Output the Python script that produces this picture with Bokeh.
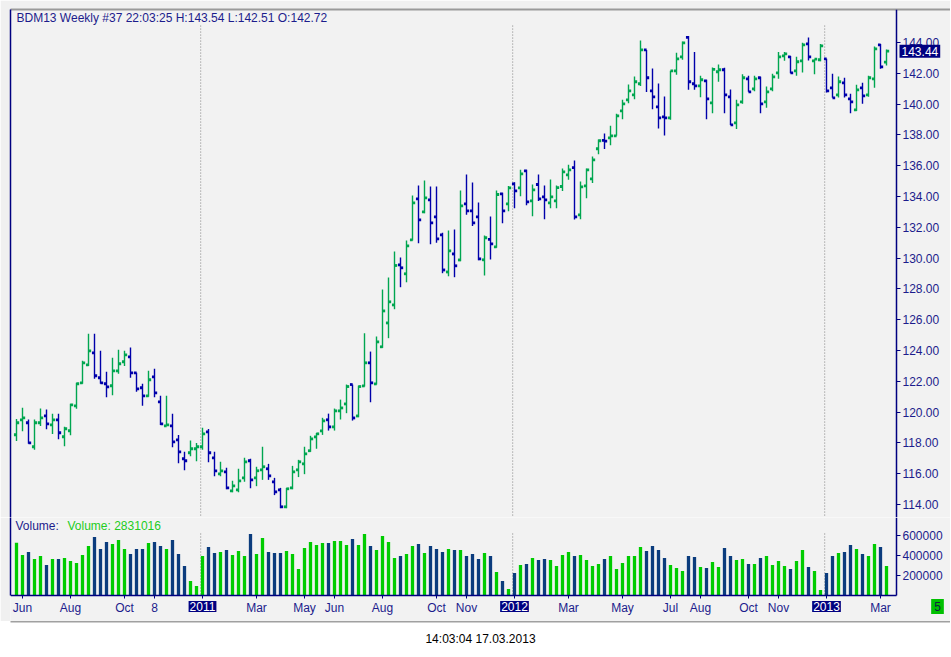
from bokeh.plotting import figure
from bokeh.models import (Range1d, LinearAxis, FixedTicker, Label, ColumnDataSource,
                          NumeralTickFormatter)
from bokeh.layouts import column
from bokeh.embed import file_html
from bokeh.resources import INLINE

# ---------------- data (weekly OHLC, BDM13) ----------------
opens = [118.53, 119.50, 119.31, 117.75, 119.31, 119.76, 119.17, 119.50, 118.40, 118.79,
         120.41, 121.90, 123.07, 123.85, 122.23, 121.84, 121.71, 122.68, 123.27, 123.59,
         122.55, 121.58, 121.06, 122.29, 120.67, 119.11, 119.11, 118.20, 116.97, 117.36,
         117.62, 117.75, 118.72, 117.03, 115.99, 116.12, 114.89, 114.95, 115.73, 116.84,
         115.73, 116.25, 116.32, 115.47, 114.95, 113.85, 115.08, 116.25, 116.64, 117.49,
         118.39, 118.78, 119.50, 119.04, 120.08, 120.53, 121.79, 119.75, 121.70, 123.20,
         121.83, 124.24, 125.79, 126.96, 129.56, 128.98, 131.18, 133.85, 133.00, 133.78,
         132.68, 131.51, 129.10, 130.27, 129.88, 133.52, 133.07, 132.68, 129.89, 131.21,
         130.73, 134.17, 133.52, 134.82, 134.56, 135.67, 133.72, 134.78, 133.98, 133.59,
         133.72, 134.65, 135.41, 135.88, 132.81, 134.69, 135.15, 137.10, 137.64, 137.81,
         137.94, 139.56, 140.28, 140.60, 141.32, 143.52, 140.86, 139.82, 139.17, 139.11,
         142.16, 143.07, 144.33, 141.32, 141.19, 141.51, 140.08, 142.10, 142.23, 140.47,
         138.78, 140.15, 141.64, 140.99, 141.71, 140.15, 140.99, 142.03, 143.13, 143.07,
         142.16, 142.81, 143.91, 142.81, 142.88, 142.94, 141.06, 140.60, 141.38, 140.34,
         139.63, 141.06, 140.60, 141.64, 143.85, 142.72]
highs = [119.56, 120.28, 119.52, 119.52, 120.24, 120.17, 119.89, 119.89, 119.05, 120.54,
         121.90, 123.33, 125.08, 125.08, 123.98, 122.62, 123.53, 124.05, 123.98, 124.20,
         122.55, 121.84, 122.68, 122.81, 121.06, 121.06, 119.89, 118.52, 117.42, 118.16,
         118.00, 118.98, 118.91, 117.42, 116.77, 116.38, 115.54, 116.32, 117.03, 116.97,
         116.45, 117.75, 116.64, 115.73, 115.08, 115.08, 116.51, 116.90, 117.75, 118.46,
         118.65, 119.63, 119.90, 120.23, 120.81, 121.79, 121.79, 121.72, 125.12, 123.93,
         124.91, 127.96, 128.74, 130.43, 130.04, 131.14, 134.06, 134.71, 135.04, 134.65,
         134.65, 131.64, 131.79, 131.85, 134.39, 135.43, 134.91, 133.61, 131.47, 132.70,
         134.39, 134.24, 134.69, 134.93, 135.73, 135.73, 134.78, 135.43, 134.71, 135.10,
         134.71, 135.82, 136.06, 136.34, 134.97, 135.82, 136.60, 137.70, 138.09, 138.59,
         139.37, 140.28, 141.27, 141.79, 144.13, 143.52, 142.31, 141.34, 140.50, 142.16,
         143.33, 144.07, 144.43, 143.39, 141.84, 141.58, 142.38, 142.57, 142.36, 140.95,
         140.28, 141.94, 141.84, 141.84, 141.77, 141.14, 141.97, 143.39, 143.39, 143.13,
         143.07, 143.98, 144.33, 142.92, 143.91, 142.94, 141.97, 141.79, 141.71, 140.67,
         141.25, 141.38, 141.84, 143.74, 143.91, 143.54]
lows = [118.12, 118.76, 117.94, 117.55, 119.09, 118.89, 118.57, 118.24, 117.79, 118.50,
        120.21, 121.84, 123.00, 122.16, 121.84, 120.97, 121.10, 122.49, 123.00, 122.23,
        121.32, 120.41, 120.99, 120.97, 119.17, 119.11, 117.72, 116.68, 116.23, 117.14,
        116.81, 117.55, 116.75, 115.84, 115.84, 114.99, 114.80, 114.80, 115.47, 115.06,
        115.19, 115.60, 115.60, 114.61, 113.76, 113.76, 114.99, 115.78, 115.97, 117.42,
        117.62, 118.52, 118.80, 118.80, 119.52, 119.93, 119.45, 119.67, 121.66, 120.64,
        121.79, 124.17, 124.80, 126.68, 128.11, 128.43, 131.14, 130.97, 132.91, 130.90,
        130.99, 129.02, 128.82, 128.76, 129.80, 132.81, 132.09, 129.86, 128.87, 129.91,
        130.67, 132.27, 133.05, 133.24, 134.02, 133.44, 132.72, 133.70, 132.53, 133.24,
        133.24, 134.35, 135.08, 132.51, 132.53, 133.89, 134.87, 136.75, 137.08, 137.33,
        137.94, 139.02, 140.06, 140.32, 141.17, 140.78, 139.67, 138.42, 137.96, 138.98,
        141.90, 142.88, 140.93, 140.93, 140.45, 139.02, 139.41, 141.45, 139.41, 138.65,
        138.39, 140.02, 140.80, 140.84, 139.41, 139.76, 140.84, 141.64, 142.81, 142.01,
        141.84, 142.05, 142.83, 141.94, 142.79, 140.75, 140.41, 140.43, 140.43, 139.41,
        139.56, 140.02, 140.47, 141.06, 142.29, 142.51]
closes = [119.31, 119.63, 118.00, 119.31, 119.63, 119.24, 119.50, 118.66, 118.92, 120.47,
          121.84, 123.20, 123.98, 122.36, 121.90, 121.64, 122.68, 123.14, 123.72, 122.55,
          121.51, 121.06, 122.10, 121.25, 119.24, 119.17, 118.07, 117.42, 116.84, 117.62,
          117.75, 118.59, 117.36, 116.19, 116.19, 115.08, 115.21, 115.54, 116.77, 115.60,
          116.19, 116.45, 115.86, 114.82, 113.85, 115.02, 116.12, 116.77, 117.29, 118.26,
          118.59, 119.43, 119.04, 120.08, 120.27, 121.66, 119.62, 121.66, 123.20, 121.90,
          124.56, 126.57, 127.16, 129.52, 129.37, 130.79, 133.59, 132.48, 133.91, 132.29,
          131.25, 129.23, 130.47, 129.50, 133.39, 133.07, 132.29, 129.95, 131.32, 130.93,
          134.13, 133.07, 134.56, 134.37, 135.47, 133.65, 134.43, 133.85, 133.78, 133.98,
          134.58, 135.60, 135.73, 132.68, 134.63, 135.73, 136.38, 137.62, 137.60, 137.94,
          139.24, 140.02, 140.86, 141.45, 143.52, 141.71, 140.47, 139.11, 139.11, 142.16,
          142.94, 143.98, 141.45, 141.19, 141.58, 140.34, 142.25, 142.23, 140.60, 138.65,
          139.95, 141.71, 140.80, 141.64, 140.02, 140.80, 141.77, 143.07, 143.26, 142.03,
          142.75, 143.85, 143.07, 142.92, 143.78, 140.86, 140.41, 141.45, 140.60, 140.15,
          140.93, 140.54, 141.71, 143.59, 142.42, 143.44]
volumes = [523000, 400000, 430000, 360000, 390000, 300000, 360000, 360000, 370000, 340000,
           320000, 400000, 490000, 580000, 460000, 530000, 510000, 550000, 460000, 410000,
           460000, 460000, 520000, 530000, 490000, 460000, 550000, 410000, 290000, 140000,
           90000, 390000, 480000, 420000, 430000, 450000, 400000, 440000, 390000, 610000,
           410000, 570000, 430000, 420000, 420000, 440000, 410000, 260000, 470000, 530000,
           500000, 520000, 520000, 540000, 540000, 500000, 560000, 500000, 610000, 490000,
           450000, 590000, 530000, 370000, 390000, 410000, 490000, 510000, 420000, 490000,
           460000, 430000, 460000, 450000, 450000, 390000, 410000, 360000, 420000, 390000,
           230000, 140000, 60000, 220000, 300000, 310000, 370000, 350000, 360000, 350000,
           290000, 400000, 430000, 390000, 400000, 350000, 290000, 310000, 360000, 390000,
           260000, 320000, 390000, 390000, 480000, 440000, 490000, 450000, 370000, 300000,
           270000, 240000, 390000, 380000, 280000, 270000, 330000, 280000, 470000, 390000,
           350000, 360000, 310000, 310000, 370000, 390000, 300000, 340000, 290000, 260000,
           340000, 450000, 280000, 240000, 50000, 220000, 390000, 420000, 430000, 500000,
           460000, 410000, 390000, 510000, 480000, 290000]

tick_idx = [1, 9, 18, 23, 31, 40, 48, 53, 61, 70, 75, 83, 92, 101, 109, 114, 122, 127, 135, 144]
tick_labels = ["Jun", "Aug", "Oct", "8", "2011", "Mar", "May", "Jun", "Aug", "Oct", "Nov",
               "2012", "Mar", "May", "Jul", "Aug", "Oct", "Nov", "2013", "Mar"]
year_labels = ["2011", "2012", "2013"]
price_ticks = [114, 116, 118, 120, 122, 124, 126, 128, 130, 132, 134, 136, 138, 140, 142, 144]
volume_ticks = [200000, 400000, 600000]
title_text = "BDM13  Weekly  #37 22:03:25 H:143.54 L:142.51 O:142.72"
last_price = 143.44
volume_title = "Volume:"
volume_value_text = "Volume: 2831016"
footer_text = "14:03:04 17.03.2013"
page_badge = "5"

# ---------------- styling / geometry ----------------
NAVY = "#000080"
TXT = "#1C1C8C"
UP = "#00A650"
DOWN = "#0000AA"
VUP = "#00CC00"
VDOWN = "#0B3C7D"
FONT = "Liberation Sans"
PLOT_BG = "#F2F2F2"
BORDER_BG = "#F0F0F0"
W = 950
X_START, X_AXIS = -1.0, 146.67          # left edge and right-axis position (bar units)
X_END = X_START + (W - 10) / 6.0         # frame reaches the right edge of the figure
P_LO, P_HI = 113.156, 146.143
V_LO, V_HI = -265000, 775000
V_BASE = -5000

n = len(opens)
idx = list(range(n))
up = [c >= o for o, c in zip(opens, closes)]
src = ColumnDataSource(dict(
    x=idx, xo=[i - 0.2 for i in idx], xc=[i + 0.22 for i in idx],
    open=opens, high=highs, low=lows, close=closes, vol=volumes,
    pc=[UP if u else DOWN for u in up], vc=[VUP if u else VDOWN for u in up]))

xr = Range1d(X_START, X_END)


def line_axis(color, width=1.5, bounds="auto"):
    return LinearAxis(ticker=FixedTicker(ticks=[]), axis_line_color=color,
                      axis_line_width=width, major_tick_out=0, major_tick_in=0,
                      minor_tick_out=0, minor_tick_in=0, major_label_text_font_size="0px",
                      major_label_standoff=0, bounds=bounds)


def value_axis(ticks, fmt, loc, bounds="auto"):
    return LinearAxis(ticker=FixedTicker(ticks=ticks), formatter=NumeralTickFormatter(format=fmt),
                      fixed_location=loc, bounds=bounds,
                      axis_line_color=NAVY, axis_line_width=1.5, major_tick_line_color=NAVY,
                      major_tick_out=4, major_tick_in=0, minor_tick_out=0, minor_tick_in=0,
                      major_label_text_color=TXT, major_label_text_font=FONT,
                      major_label_text_font_size="12px", major_label_standoff=2)


# ---------------- price panel ----------------
p = figure(width=W, height=517, x_range=xr, y_range=Range1d(P_LO, P_HI),
           output_backend="svg", toolbar_location=None,
           x_axis_location=None, y_axis_location=None,
           min_border_left=10, min_border_right=0, min_border_top=9, min_border_bottom=0,
           background_fill_color=PLOT_BG, border_fill_color=BORDER_BG)
p.outline_line_color = None
p.grid.visible = False

p.add_layout(value_axis(price_ticks, "0.00", X_AXIS), "right")
p.add_layout(line_axis(NAVY), "left")
p.add_layout(line_axis("#9A9A9A", 2), "above")

year_idx = [tick_idx[tick_labels.index(y)] for y in year_labels]
sep_x = [i - 0.3 for i in year_idx]
p.segment(x0=sep_x, y0=[145.1] * len(sep_x), x1=sep_x, y1=[P_LO] * len(sep_x),
          line_color="#808080", line_width=1, line_dash="1 2")

p.segment(x0="x", y0="low", x1="x", y1="high", line_color="pc", line_width=1.4, source=src)
p.rect(x="xo", y="open", width=0.45, height=2.8, height_units="screen",
       fill_color="pc", line_color=None, source=src)
p.rect(x="xc", y="close", width=0.45, height=2.8, height_units="screen",
       fill_color="pc", line_color=None, source=src)

p.add_layout(Label(x=6, y=500, x_units="screen", y_units="screen", text=title_text,
                   text_font=FONT, text_font_size="12px", text_color=TXT,
                   text_baseline="middle", text_align="left"))
p.add_layout(Label(x=X_AXIS + 0.5, y=last_price, x_units="data", y_units="data",
                   text="%.2f" % last_price, text_font=FONT, text_font_size="12px",
                   text_color="white", background_fill_color=NAVY, padding=2,
                   text_baseline="middle", text_align="left"))

# ---------------- volume panel ----------------
v = figure(width=W, height=104, x_range=xr, y_range=Range1d(V_LO, V_HI),
           output_backend="svg", toolbar_location=None,
           x_axis_location=None, y_axis_location=None,
           min_border_left=10, min_border_right=0, min_border_top=0, min_border_bottom=0,
           background_fill_color=PLOT_BG, border_fill_color=BORDER_BG)
v.outline_line_color = None
v.grid.visible = False

v.add_layout(value_axis(volume_ticks, "0", X_AXIS, bounds=(V_BASE, V_HI)), "right")
v.add_layout(line_axis(NAVY, bounds=(V_BASE, V_HI)), "left")

xa = LinearAxis(ticker=FixedTicker(ticks=tick_idx), fixed_location=V_BASE,
                bounds=(X_START, X_AXIS),
                major_label_overrides={t: ("" if lab in year_labels else lab)
                                       for t, lab in zip(tick_idx, tick_labels)},
                axis_line_color=NAVY, axis_line_width=1.5, major_tick_line_color=NAVY,
                major_tick_out=3, major_tick_in=0, minor_tick_out=0, minor_tick_in=0,
                major_label_text_color=TXT, major_label_text_font=FONT,
                major_label_text_font_size="12px", major_label_standoff=2)
v.add_layout(xa, "below")

v.segment(x0=sep_x, y0=[615000] * len(sep_x), x1=sep_x, y1=[V_BASE] * len(sep_x),
          line_color="#808080", line_width=1, line_dash="1 2")
v.vbar(x="x", top="vol", bottom=0, width=0.55, fill_color="vc", line_color=None, source=src)

v.add_layout(Label(x=5, y=96, x_units="screen", y_units="screen", text=volume_title,
                   text_font=FONT, text_font_size="12px", text_color=TXT,
                   text_baseline="middle", text_align="left"))
v.add_layout(Label(x=57, y=96, x_units="screen", y_units="screen", text=volume_value_text,
                   text_font=FONT, text_font_size="12px", text_color="#22CC22",
                   text_baseline="middle", text_align="left"))
LABEL_ROW = -115000
for yi, ylab in zip(year_idx, year_labels):
    v.add_layout(Label(x=yi, y=LABEL_ROW, x_units="data", y_units="data", text=ylab,
                       text_font=FONT, text_font_size="12px", text_color="white",
                       background_fill_color=NAVY, padding=1,
                       text_baseline="middle", text_align="center"))
v.add_layout(Label(x=153.5, y=LABEL_ROW, x_units="data", y_units="data", text=page_badge,
                   text_font=FONT, text_font_size="12px", text_color="#102040",
                   background_fill_color="#00C000", padding=3,
                   text_baseline="middle", text_align="center"))

# ---------------- footer ----------------
f = figure(width=W, height=28, x_range=Range1d(0, 1), y_range=Range1d(0, 1),
           output_backend="svg", toolbar_location=None,
           x_axis_location=None, y_axis_location=None,
           min_border_left=0, min_border_right=0, min_border_top=0, min_border_bottom=0,
           background_fill_color="white", border_fill_color="white")
f.outline_line_color = None
f.grid.visible = False
f.add_layout(line_axis("#A0A0A0", 2), "above")
f.add_layout(Label(x=0.5, y=11, x_units="data", y_units="screen", text=footer_text,
                   text_font=FONT, text_font_size="12px", text_color="black",
                   text_baseline="middle", text_align="center"))

layout = column(p, v, f, spacing=0)
open("out.html", "w").write(file_html(layout, INLINE))
